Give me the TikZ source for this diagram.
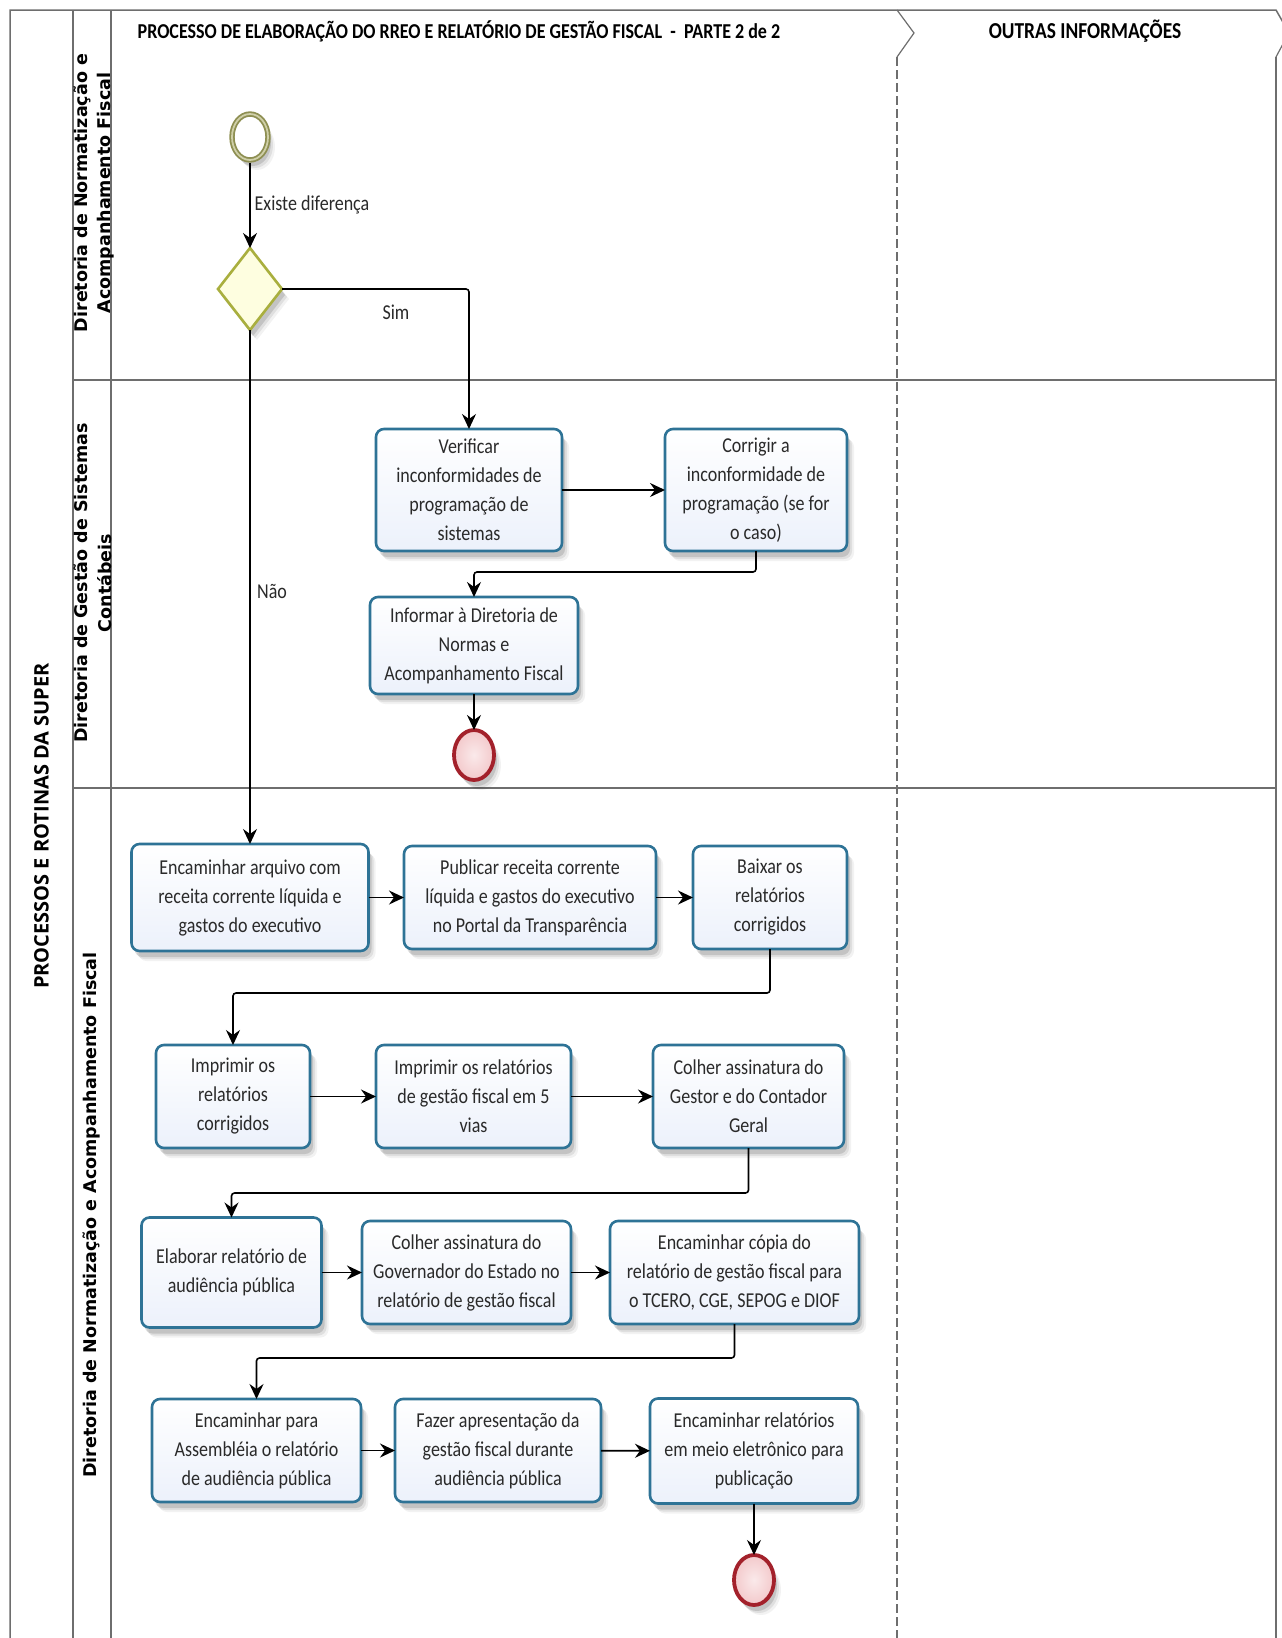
\documentclass[tikz,border=0pt]{standalone}
\usepackage{fontspec}
\setmainfont{Carlito}
\newfontfamily\taskfont[FakeStretch=0.85]{Carlito}
\newfontfamily\lanefont{DejaVu Sans}
\newfontfamily\poolfont{Open Sans}
\usetikzlibrary{arrows.meta,shapes.geometric,shadows,calc}
\definecolor{frame}{HTML}{6E6E6E}
\definecolor{taskedge}{HTML}{2E7396}
\definecolor{taskfill}{HTML}{ECF1FB}
\definecolor{taskink}{HTML}{2A2A2A}
\definecolor{startedge}{HTML}{8E8F52}
\definecolor{startband}{HTML}{CFCFA8}
\definecolor{gateedge}{HTML}{A9AF3E}
\definecolor{gatefill}{HTML}{FEFEE0}
\definecolor{endedge}{HTML}{A3212B}
\definecolor{endfill}{HTML}{F3C9CB}
\tikzset{
  softshadow/.style={
    general shadow={shadow xshift=7pt,shadow yshift=-10pt,fill=black,opacity=.05},
    general shadow={shadow xshift=5pt,shadow yshift=-8pt,fill=black,opacity=.08},
    general shadow={shadow xshift=3pt,shadow yshift=-6pt,fill=black,opacity=.12}},
  task/.style={draw=taskedge,line width=2.6pt,rounded corners=8pt,
    top color=white,bottom color=taskfill,softshadow,inner sep=0pt,outer sep=0pt,
    align=center,text=taskink,font=\taskfont\fontsize{21.2}{29}\selectfont},
  startev/.style={ellipse,draw=startedge,line width=1.8pt,double=startband,double distance=1.8pt,
    fill=white,minimum width=36pt,minimum height=46pt,inner sep=0pt,outer sep=2.5pt,softshadow},
  gate/.style={diamond,draw=gateedge,line width=2.6pt,fill=gatefill,minimum width=64pt,
    minimum height=82pt,inner sep=0pt,outer sep=0pt,softshadow},
  endev/.style={ellipse,draw=endedge,line width=3.8pt,inner color=white!60!endfill,outer color=endfill,
    minimum width=40pt,minimum height=50pt,inner sep=0pt,outer sep=0pt,softshadow},
  conn/.style={draw=black,line width=1.6pt,rounded corners=3pt,
    -{Stealth[length=15pt,width=14pt,inset=5pt]}},
  lane/.style={draw=frame,line width=1.5pt},
  lanetext/.style={rotate=90,align=center,font=\lanefont\bfseries\fontsize{17.5}{23.5}\selectfont,text=black},
  flowtext/.style={font=\taskfont\fontsize{21.2}{26}\selectfont,text=taskink}
}
\begin{document}
\begin{tikzpicture}[x=1pt,y=-1pt]
\useasboundingbox (0,0) rectangle (1282,1638);
\fill[white] (0,0) rectangle (1282,1638);
% pool frame
\draw[lane] (10,1638) -- (10,10) -- (1276,10) -- (1284,24);
\draw[lane] (73,10) -- (73,1638);
\draw[lane] (111,10) -- (111,1638);
\draw[lane] (73,380) -- (1276,380);
\draw[lane] (73,788) -- (1276,788);
\draw[lane] (1276,57) -- (1276,1638);
\draw[frame,line width=1.2pt] (1284,42) -- (1276,57);
% phase separator
\draw[frame,line width=1.2pt] (897,10) -- (914,33) -- (897,57);
\draw[frame,line width=1.2pt,dashed,dash pattern=on 9pt off 4pt] (897,57) -- (897,1638);
% labels
\node[rotate=90,font=\poolfont\bfseries\fontsize{20}{22}\selectfont] (pooltitle) at (41.5,826) {PROCESSOS E ROTINAS DA SUPER};
\node[lanetext] (lanea) at (94,193) {Diretoria de Normatização e\\Acompanhamento Fiscal};
\node[lanetext] (laneb) at (93,583) {Diretoria de Gestão de Sistemas\\Contábeis};
\node[lanetext] (lanec) at (92,1215) {Diretoria de Normatização e Acompanhamento Fiscal};
\node[font=\taskfont\bfseries\fontsize{21.2}{24}\selectfont] (maintitle) at (459,31) {PROCESSO DE ELABORAÇÃO DO RREO E RELATÓRIO DE GESTÃO FISCAL\ \ -\ \ PARTE 2 de 2};
\node[font=\taskfont\bfseries\fontsize{22.8}{24}\selectfont] (othertitle) at (1085,31) {OUTRAS INFORMAÇÕES};
% events
\node[startev] (start) at (250,137) {};
\node[gate] (dec) at (250,289) {};
\node[endev] (endb) at (474,755) {};
\node[endev] (endc) at (754,1580) {};
% tasks
\node[task,minimum width=186pt,minimum height=122pt] (verif) at (469,490) {Verificar\\inconformidades de\\programação de\\sistemas};
\node[task,minimum width=182pt,minimum height=122pt] (corrig) at (756,490) {Corrigir a\\inconformidade de\\programação (se for\\o caso)};
\node[task,minimum width=208pt,minimum height=97pt] (inform) at (474,645.5) {Informar à Diretoria de\\Normas e\\Acompanhamento Fiscal};
\node[task,minimum width=237pt,minimum height=107pt] (enca) at (250,897.5) {Encaminhar arquivo com\\receita corrente líquida e\\gastos do executivo};
\node[task,minimum width=252pt,minimum height=103pt] (publ) at (530,897.5) {Publicar receita corrente\\líquida e gastos do executivo\\no Portal da Transparência};
\node[task,minimum width=154pt,minimum height=103pt] (baix) at (770,897.5) {Baixar os\\relatórios\\corrigidos};
\node[task,minimum width=154pt,minimum height=103pt] (impr) at (233,1096.5) {Imprimir os\\relatórios\\corrigidos};
\node[task,minimum width=195pt,minimum height=103pt] (impv) at (473.5,1096.5) {Imprimir os relatórios\\de gestão fiscal em 5\\vias};
\node[task,minimum width=191pt,minimum height=103pt] (colh) at (748.5,1096.5) {Colher assinatura do\\Gestor e do Contador\\Geral};
\node[task,minimum width=180pt,minimum height=110pt] (elab) at (231.5,1272.5) {Elaborar relatório de\\audiência pública};
\node[task,minimum width=209pt,minimum height=103pt] (colg) at (466.5,1272.5) {Colher assinatura do\\Governador do Estado no\\relatório de gestão fiscal};
\node[task,minimum width=249pt,minimum height=103pt] (copi) at (734.5,1272.5) {Encaminhar cópia do\\relatório de gestão fiscal para\\o TCERO, CGE, SEPOG e DIOF};
\node[task,minimum width=209pt,minimum height=103pt] (asse) at (256.5,1450.5) {Encaminhar para\\Assembléia o relatório\\de audiência pública};
\node[task,minimum width=206pt,minimum height=103pt] (faze) at (498,1450.5) {Fazer apresentação da\\gestão fiscal durante\\audiência pública};
\node[task,minimum width=208pt,minimum height=105pt] (publc) at (754,1451) {Encaminhar relatórios\\em meio eletrônico para\\publicação};
% routing levels
\coordinate (r1) at (600,572);
\coordinate (r2) at (500,993);
\coordinate (r3) at (500,1193);
\coordinate (r4) at (500,1358);
% connectors
\draw[conn] (start) -- (dec);
\draw[conn] (dec.east) -| (verif.north);
\draw[conn] (dec.south) -- (enca.north);
\draw[conn] (verif) -- (corrig);
\draw[conn] (corrig.south) |- (r1) -| (inform.north);
\draw[conn] (inform) -- (endb);
\draw[conn] (enca) -- (publ);
\draw[conn] (publ) -- (baix);
\draw[conn] (baix.south) |- (r2) -| (impr.north);
\draw[conn] (impr) -- (impv);
\draw[conn] (impv) -- (colh);
\draw[conn] (colh.south) |- (r3) -| (elab.north);
\draw[conn] (elab) -- (colg);
\draw[conn] (colg) -- (copi);
\draw[conn] (copi.south) |- (r4) -| (asse.north);
\draw[conn] (asse) -- (faze);
\draw[conn] (faze) -- (publc);
\draw[conn] (publc) -- (endc);
% flow labels
\node[flowtext] (lbla) at (312,205) {Existe diferença};
\node[flowtext] (lblb) at (396,312) {Sim};
\node[flowtext] (lblc) at (272,591) {Não};
\end{tikzpicture}
\end{document}
